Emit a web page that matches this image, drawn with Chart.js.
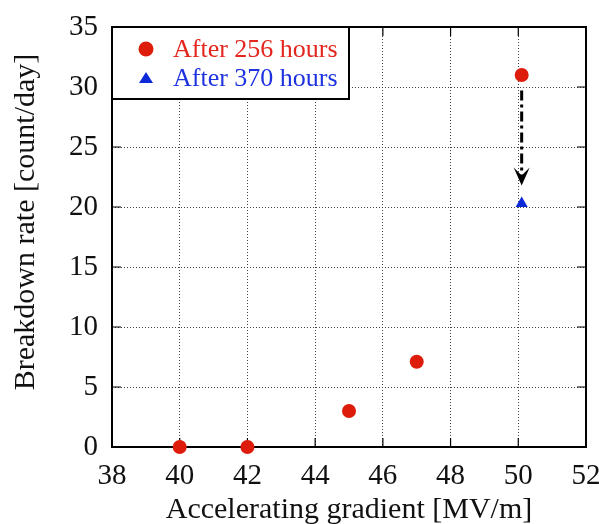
<!DOCTYPE html>
<html>
<head>
<meta charset="utf-8">
<script src="https://cdn.jsdelivr.net/npm/chart.js@4"></script>
<style>
  html, body { margin: 0; padding: 0; background: #fff; }
  #wrap { width: 599px; height: 524px; }
</style>
</head>
<body>
<div id="wrap"><canvas id="bdr-chart" width="599" height="524"></canvas></div>
<script>
// breakdown rate vs gradient
const gradient256 = [40, 42, 45, 47, 50.1];
const rate256 = [0, 0, 3, 7.1, 31];
const gradient370 = [50.1];
const rate370 = [20.3];
const xTicks = [38, 40, 42, 44, 46, 48, 50, 52];
const yTicks = [0, 5, 10, 15, 20, 25, 30, 35];
// arrow from the 256 h point down to the 370 h point
const arrowX = [50.1, 50.1];
const arrowY = [29.7, 21.8];

const serif = '"Liberation Serif", "Times New Roman", serif';
const red = '#de1c0c';
const blue = '#0c2ad8';

const toPoints = (xs, ys) => xs.map((x, i) => ({ x: x, y: ys[i] }));

const framePlugin = {
  id: 'frame',
  beforeDatasetsDraw(chart) {
    const { ctx, chartArea: a, scales: { x, y } } = chart;
    ctx.save();
    // inward tick marks on all four sides
    ctx.strokeStyle = '#000';
    ctx.lineWidth = 1.2;
    ctx.beginPath();
    xTicks.forEach(v => {
      const px = x.getPixelForValue(v);
      ctx.moveTo(px, a.bottom); ctx.lineTo(px, a.bottom - 9);
      ctx.moveTo(px, a.top); ctx.lineTo(px, a.top + 9);
    });
    yTicks.forEach(v => {
      const py = y.getPixelForValue(v);
      ctx.moveTo(a.left, py); ctx.lineTo(a.left + 9, py);
      ctx.moveTo(a.right, py); ctx.lineTo(a.right - 9, py);
    });
    ctx.stroke();

    ctx.lineWidth = 2;
    ctx.strokeRect(a.left, a.top, a.right - a.left, a.bottom - a.top);
    ctx.restore();
  },
  afterDatasetsDraw(chart) {
    const { ctx, scales: { x, y } } = chart;
    ctx.save();
    // dash-dot arrow
    const x0 = x.getPixelForValue(arrowX[0]);
    const y0 = y.getPixelForValue(arrowY[0]);
    const x1 = x.getPixelForValue(arrowX[1]);
    const y1 = y.getPixelForValue(arrowY[1]);
    ctx.strokeStyle = '#000';
    ctx.lineWidth = 3;
    ctx.setLineDash([10, 4, 3, 4]);
    ctx.beginPath();
    ctx.moveTo(x0, y0);
    ctx.lineTo(x1, y1 - 8);
    ctx.stroke();
    ctx.setLineDash([]);
    ctx.fillStyle = '#000';
    ctx.beginPath();
    ctx.moveTo(x1, y1);
    ctx.lineTo(x1 - 8, y1 - 18);
    ctx.lineTo(x1, y1 - 10);
    ctx.lineTo(x1 + 8, y1 - 18);
    ctx.closePath();
    ctx.fill();
    ctx.restore();
  },
  afterDraw(chart) {
    const { ctx, chartArea: a } = chart;
    ctx.save();

    // legend box in the top-left corner
    const bx = a.left, by = a.top, bw = 237, bh = 72;
    ctx.fillStyle = '#fff';
    ctx.fillRect(bx, by, bw, bh);
    ctx.strokeStyle = '#000';
    ctx.lineWidth = 2;
    ctx.strokeRect(bx, by, bw, bh);

    ctx.font = '26px ' + serif;
    ctx.textBaseline = 'middle';
    chart.data.datasets.forEach((ds, i) => {
      const cy = by + 22 + i * 29;
      ctx.fillStyle = ds.backgroundColor;
      ctx.beginPath();
      if (ds.pointStyle === 'triangle') {
        ctx.moveTo(bx + 34, cy - 6);
        ctx.lineTo(bx + 41, cy + 5);
        ctx.lineTo(bx + 27, cy + 5);
        ctx.closePath();
      } else {
        ctx.arc(bx + 34, cy, 7.5, 0, Math.PI * 2);
      }
      ctx.fill();
      ctx.fillStyle = ds.textColor;
      ctx.fillText(ds.label, bx + 61, cy + 1);
    });

    // axis titles
    ctx.fillStyle = '#111';
    ctx.font = '30px ' + serif;
    ctx.textAlign = 'center';
    ctx.textBaseline = 'middle';
    ctx.fillText('Accelerating gradient [MV/m]', (a.left + a.right) / 2, 510);
    ctx.translate(26, 222);
    ctx.rotate(-Math.PI / 2);
    ctx.fillText('Breakdown rate [count/day]', 0, 0);
    ctx.restore();
  }
};

new Chart(document.getElementById('bdr-chart'), {
  type: 'scatter',
  data: {
    datasets: [
      {
        label: 'After 256 hours',
        data: toPoints(gradient256, rate256),
        backgroundColor: red,
        borderColor: red,
        textColor: '#e3261e',
        pointStyle: 'circle',
        pointRadius: 7,
        pointBorderWidth: 0,
        clip: false
      },
      {
        label: 'After 370 hours',
        data: toPoints(gradient370, rate370),
        backgroundColor: blue,
        borderColor: blue,
        textColor: '#1e32e0',
        pointStyle: 'triangle',
        pointRadius: 7,
        pointBorderWidth: 0,
        clip: false
      }
    ]
  },
  options: {
    responsive: false,
    animation: false,
    layout: { padding: { top: 27, right: 13, left: 0, bottom: 0 } },
    plugins: {
      legend: { display: false },
      tooltip: { enabled: false }
    },
    scales: {
      x: {
        type: 'linear',
        min: 38,
        max: 52,
        afterFit: s => { s.height = 77; s.paddingLeft = 0; s.paddingRight = 0; },
        afterBuildTicks: s => { s.ticks = xTicks.map(v => ({ value: v })); },
        ticks: { font: { family: serif, size: 29 }, color: '#111', padding: 12, maxRotation: 0 },
        grid: { color: '#444', lineWidth: 1, drawTicks: false },
        border: { display: false, dash: [1, 2] }
      },
      y: {
        type: 'linear',
        min: 0,
        max: 35,
        afterFit: s => { s.width = 112; s.paddingTop = 0; s.paddingBottom = 0; },
        afterBuildTicks: s => { s.ticks = yTicks.map(v => ({ value: v })); },
        ticks: { font: { family: serif, size: 29 }, color: '#111', padding: 14 },
        grid: { color: '#444', lineWidth: 1, drawTicks: false },
        border: { display: false, dash: [1, 2] }
      }
    }
  },
  plugins: [framePlugin]
});
</script>
</body>
</html>
